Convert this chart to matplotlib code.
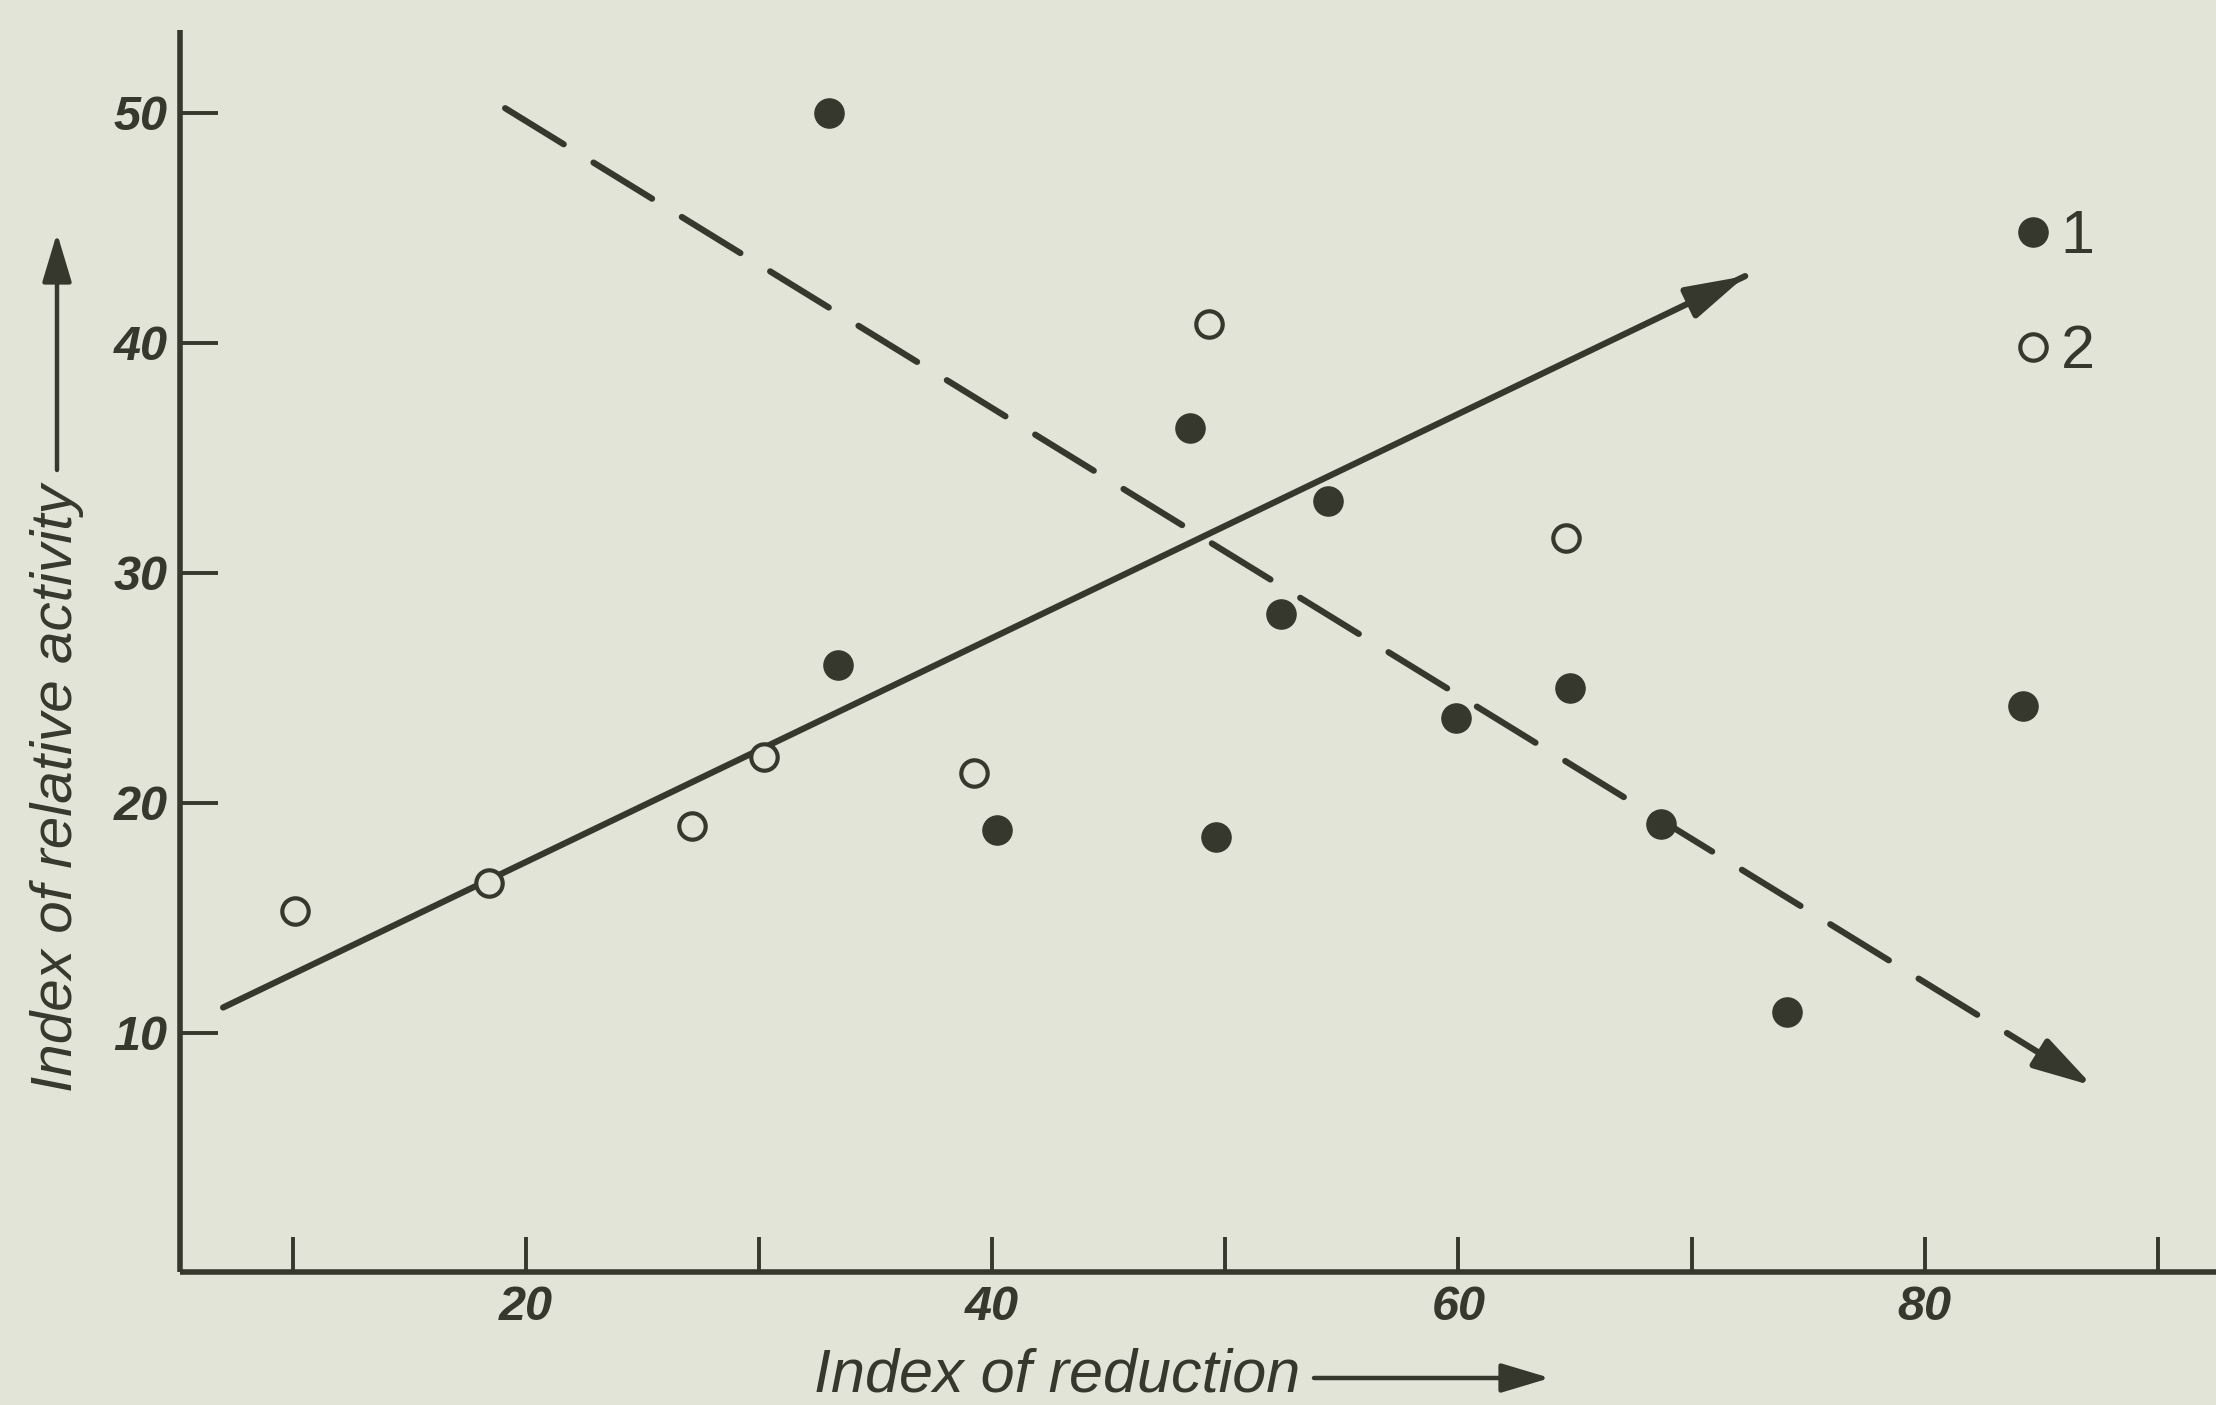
import matplotlib
matplotlib.use("Agg")
import matplotlib.pyplot as plt
from matplotlib.lines import Line2D
import numpy as np

# ---- data ----
x_filled = [33.0, 48.5, 54.4, 33.4, 52.4, 59.9, 64.8, 40.2, 49.6, 68.7, 74.1, 84.2]
y_filled = [50.0, 36.3, 33.1, 26.0, 28.2, 23.7, 25.0, 18.8, 18.5, 19.1, 10.9, 24.2]
x_open = [10.1, 18.4, 27.1, 30.2, 39.2, 49.3, 64.6]
y_open = [15.3, 16.5, 19.0, 22.0, 21.3, 40.8, 31.5]
solid_line_x = [7.0, 72.3]
solid_line_y = [11.1, 42.9]
dashed_line_x = [19.1, 87.2]
dashed_line_y = [50.2, 7.7]
x_ticks = [10, 20, 30, 40, 50, 60, 70, 80, 90]
x_labels = ["", "20", "", "40", "", "60", "", "80", ""]
y_ticks = [10, 20, 30, 40, 50]
y_labels = ["10", "20", "30", "40", "50"]
legend_labels = ["1", "2"]
xlabel = "Index of reduction"
ylabel = "Index of relative activity"

BG = "#e3e4d8"
INK = "#36382e"
FONT = ["Liberation Sans Narrow", "Liberation Sans", "DejaVu Sans"]

W, H = 2216, 1405
fig = plt.figure(figsize=(W / 100, H / 100), dpi=100, facecolor=BG)
left = 180 / W
bottom = 1 - 1272 / H
top = 1 - 30 / H
ax = fig.add_axes([left, bottom, 1 - left, top - bottom])
ax.set_facecolor(BG)
ax.set_xlim(5.15, 92.5)
ax.set_ylim(-0.4, 53.6)

for s in ["top", "right"]:
    ax.spines[s].set_visible(False)
for s in ["left", "bottom"]:
    ax.spines[s].set_color(INK)
    ax.spines[s].set_linewidth(4)
    ax.spines[s].set_capstyle("butt")

ax.set_xticks(x_ticks)
ax.set_xticklabels(x_labels)
ax.set_yticks(y_ticks)
ax.set_yticklabels(y_labels)
ax.tick_params(axis="both", direction="in", color=INK, width=2.8, labelcolor=INK,
               labelsize=35)
ax.tick_params(axis="x", length=25, pad=9)
ax.tick_params(axis="y", length=27, pad=9)
for lab in ax.get_xticklabels() + ax.get_yticklabels():
    lab.set_family(FONT)
    lab.set_style("italic")
    lab.set_weight("bold")

# trend lines
lw = 4.5
head = "-|>,head_length=3.6,head_width=1.0"
ax.plot(solid_line_x, solid_line_y, color=INK, lw=lw, solid_capstyle="round")
ax.annotate("", xy=(solid_line_x[1], solid_line_y[1]),
            xytext=(solid_line_x[1] - 0.03 * (solid_line_x[1] - solid_line_x[0]),
                    solid_line_y[1] - 0.03 * (solid_line_y[1] - solid_line_y[0])),
            arrowprops=dict(arrowstyle=head, color=INK, lw=lw, shrinkA=0, shrinkB=0))
ax.plot(dashed_line_x, dashed_line_y, color=INK, lw=lw, dashes=(11, 5.6),
        dash_capstyle="round")
ax.annotate("", xy=(dashed_line_x[1], dashed_line_y[1]),
            xytext=(dashed_line_x[1] - 0.03 * (dashed_line_x[1] - dashed_line_x[0]),
                    dashed_line_y[1] - 0.03 * (dashed_line_y[1] - dashed_line_y[0])),
            arrowprops=dict(arrowstyle=head, color=INK, lw=lw, shrinkA=0, shrinkB=0))

# points
ax.plot(x_filled, y_filled, "o", ms=21, color=INK, mec=INK, ls="none", zorder=4)
ax.plot(x_open, y_open, "o", ms=19, mfc=BG, mec=INK, mew=3.0, ls="none", zorder=4)

handles = [Line2D([], [], marker="o", ls="none", ms=21, color=INK),
           Line2D([], [], marker="o", ls="none", ms=19, mfc=BG, mec=INK, mew=3.0)]
leg = ax.legend(handles, legend_labels, loc="upper left",
                bbox_to_anchor=((1960 - 180) / (W - 180), (1272 - 154) / (1272 - 30)),
                frameon=False, handlelength=0.6, handletextpad=0.15,
                labelspacing=0.95, prop={"family": FONT, "size": 44})
for t in leg.get_texts():
    t.set_color(INK)

# axis titles with arrows
fig.text(57 / W, 1 - 788 / H, ylabel, rotation=90, ha="center", va="center",
         family=FONT, style="italic", size=42, color=INK)
fig.text(1057 / W, 1 - 1376 / H, xlabel, ha="center", va="center",
         family=FONT, style="italic", size=44, color=INK)
arrow_kw = dict(arrowstyle="-|>,head_length=3.0,head_width=0.9", color=INK, lw=3.2,
                shrinkA=0, shrinkB=0)
ax.annotate("", xy=(57 / W, 1 - 233 / H), xytext=(57 / W, 1 - 470 / H),
            xycoords="figure fraction", textcoords="figure fraction",
            arrowprops=arrow_kw, annotation_clip=False)
ax.annotate("", xy=(1550 / W, 1 - 1378 / H), xytext=(1314 / W, 1 - 1378 / H),
            xycoords="figure fraction", textcoords="figure fraction",
            arrowprops=arrow_kw, annotation_clip=False)

fig.savefig("out.png", dpi=100, facecolor=BG)
